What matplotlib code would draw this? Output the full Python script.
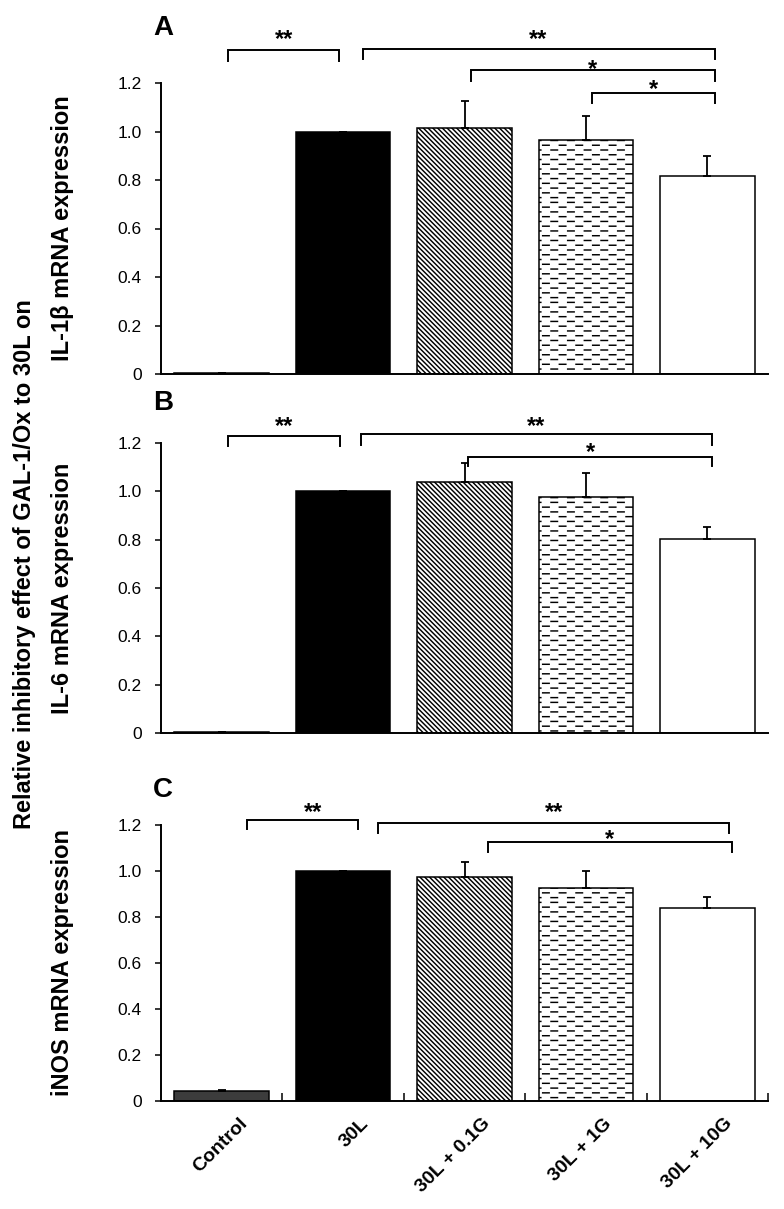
import warnings
import numpy as np
import matplotlib
matplotlib.use("Agg")
import matplotlib.pyplot as plt
from matplotlib import hatch as mhatch
from matplotlib.path import Path
import matplotlib.transforms as mtrans

warnings.filterwarnings("ignore")

# ---------------- data ----------------
categories = ["Control", "30L", "30L + 0.1G", "30L + 1G", "30L + 10G"]

il1b_vals = [0.005, 1.0, 1.015, 0.965, 0.815]
il1b_err = [0.0, 0.0, 0.11, 0.10, 0.083]

il6_vals = [0.004, 1.0, 1.038, 0.978, 0.802]
il6_err = [0.0, 0.0, 0.078, 0.097, 0.05]

inos_vals = [0.042, 1.0, 0.976, 0.925, 0.84]
inos_err = [0.006, 0.0, 0.062, 0.077, 0.047]

panel_letters = ["A", "B", "C"]
ylabels = ["IL-1\u03b2 mRNA expression", "IL-6 mRNA expression", "iNOS mRNA expression"]
outer_label = "Relative inhibitory effect of GAL-1/Ox to 30L on"
yticks = [0, 0.2, 0.4, 0.6, 0.8, 1.0, 1.2]

# significance brackets:
# (x_left, x_right, y_top, y_leg_bottom, text, text_x, text_center_y)
sig_A = [(0.05, 0.97, 1.338, 1.292, "**", 0.51, 1.41),
         (1.16, 4.06, 1.342, 1.300, "**", 2.61, 1.41),
         (2.05, 4.06, 1.254, 1.209, "*", 3.055, 1.287),
         (3.05, 4.06, 1.158, 1.117, "*", 3.555, 1.204)]
sig_B = [(0.05, 0.975, 1.229, 1.187, "**", 0.51, 1.299),
         (1.147, 4.04, 1.237, 1.192, "**", 2.59, 1.299),
         (2.03, 4.04, 1.142, 1.105, "*", 3.035, 1.19)]
sig_C = [(0.21, 1.12, 1.222, 1.183, "**", 0.75, 1.287),
         (1.288, 4.18, 1.21, 1.165, "**", 2.735, 1.287),
         (2.19, 4.2, 1.127, 1.083, "*", 3.195, 1.17)]


# ---------------- custom dash hatch ----------------
class DashHatch(mhatch.HatchPatternBase):
    def __init__(self, hatch, density):
        self.rows = 21 if hatch.count("d") else 0
        self.cols = 6
        self.num_vertices = self.rows * self.cols * 2

    def set_vertices_and_codes(self, vertices, codes):
        k = 0
        for r in range(self.rows):
            y = (r + 0.5) / self.rows
            off = 0.5 / self.cols if r % 2 else 0.0
            for c in range(self.cols):
                x0 = c / self.cols + off + 0.01
                vertices[k] = (x0, y)
                vertices[k + 1] = (x0 + 0.065, y)
                codes[k] = Path.MOVETO
                codes[k + 1] = Path.LINETO
                k += 2


mhatch._hatch_types.append(DashHatch)

plt.rcParams["font.family"] = ["Liberation Sans", "DejaVu Sans"]
plt.rcParams["hatch.linewidth"] = 1.05
plt.rcParams["hatch.color"] = "black"

fig = plt.figure(figsize=(7.84, 12.09), dpi=100)

W, H = 784.0, 1209.0
left_px, right_px = 161, 768
panels_px = [(83, 374), (443, 733), (825, 1101)]  # (y of 1.2, y of 0)
letter_px = [28, 403, 790]

face = ["#3c3c3c", "black", "white", "white", "white"]
hatches = [None, None, "\\" * 7, "d", None]

datasets = [(il1b_vals, il1b_err, sig_A),
            (il6_vals, il6_err, sig_B),
            (inos_vals, inos_err, sig_C)]

STAR_FS = 17
x = np.arange(len(categories))
for i, ((ytop, ybot), (vals, errs, sigs)) in enumerate(zip(panels_px, datasets)):
    ax = fig.add_axes([left_px / W, 1 - ybot / H, (right_px - left_px) / W, (ybot - ytop) / H])
    for j in range(len(categories)):
        ax.bar(x[j], vals[j], width=0.78, color=face[j], edgecolor="black",
               linewidth=1.1, hatch=hatches[j], zorder=2)
    ax.errorbar(x, vals, yerr=[np.zeros(len(errs)), errs], fmt="none",
                ecolor="black", elinewidth=1.3, capsize=3, capthick=1.3, zorder=3)
    ax.set_xlim(-0.5, 4.5)
    ax.set_ylim(0, 1.2)
    ax.set_yticks(yticks)
    ax.set_yticklabels(["0" if v == 0 else f"{v:.1f}" for v in yticks])
    ax.tick_params(axis="y", direction="out", length=4, width=1.1, pad=10, labelsize=12.5)
    for s in ["top", "right"]:
        ax.spines[s].set_visible(False)
    for s in ["left", "bottom"]:
        ax.spines[s].set_linewidth(1.4)
    # brackets
    for (x1, x2, yt, yb, txt, tx, ty) in sigs:
        ax.plot([x1, x1, x2, x2], [yb, yt, yt, yb], color="black", lw=1.4,
                clip_on=False, solid_joinstyle="miter", zorder=4)
        ax.annotate(txt, (tx, ty), xytext=(0, -0.58 * STAR_FS),
                    textcoords="offset points", ha="center", va="baseline",
                    fontsize=STAR_FS, fontweight="bold", annotation_clip=False)
    # panel letters
    fig.text(163 / W, 1 - letter_px[i] / H, panel_letters[i],
             fontsize=20, fontweight="bold", ha="center", va="center")
    # y labels
    fig.text(63 / W, 1 - ((ytop + ybot) / 2) / H, ylabels[i], rotation=90,
             fontsize=17, fontweight="bold", ha="center", va="center")

    if i < 2:
        ax.set_xticks([])
    else:
        ax.set_xticks(x)
        ax.set_xticks(np.arange(0.5, 5, 1.0), minor=True)
        ax.tick_params(axis="x", which="major", length=0, pad=10)
        ax.tick_params(axis="x", which="minor", direction="in", length=6, width=1.1)
        offset = mtrans.ScaledTranslation(17 / 100, 0, fig.dpi_scale_trans)
        labels = ax.set_xticklabels(categories, rotation=45, ha="right",
                                    rotation_mode="anchor", fontsize=14,
                                    fontweight="bold")
        for lab in labels:
            lab.set_transform(lab.get_transform() + offset)

fig.text(25 / W, 1 - 564 / H, outer_label, rotation=90, fontsize=17,
         fontweight="bold", ha="center", va="center")

fig.savefig("out.png", dpi=100)
